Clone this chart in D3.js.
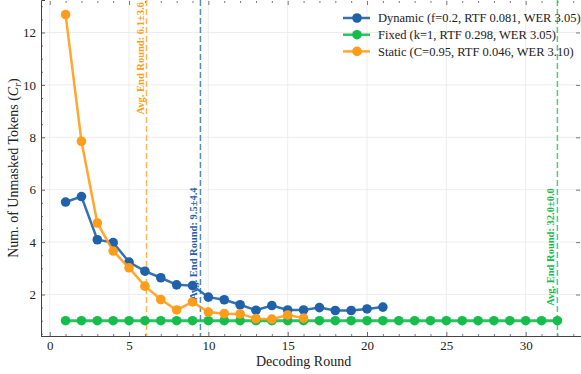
<!DOCTYPE html>
<html>
<head>
<meta charset="utf-8">
<script src="https://cdn.jsdelivr.net/npm/d3@7"></script>
<style>
  body { margin: 0; background: #fff; }
  text { font-family: "Liberation Serif", "DejaVu Serif", serif; }
</style>
</head>
<body>
<div id="chart"></div>
<script>
// data
var rounds = d3.range(1, 33);
var dynamicVals = [5.53, 5.74, 4.09, 3.98, 3.24, 2.89, 2.64, 2.37, 2.34, 1.90, 1.80,
    1.61, 1.40, 1.58, 1.41, 1.41, 1.50, 1.39, 1.39, 1.45, 1.52];
var fixedVals = rounds.map(function() { return 1.0; });
var staticVals = [12.68, 7.85, 4.73, 3.66, 3.02, 2.32, 1.81, 1.41, 1.72, 1.33, 1.27,
    1.26, 1.08, 1.06, 1.22, 1.10];
var seriesNames = ["Dynamic (f=0.2, RTF 0.081, WER 3.05)",
    "Fixed (k=1, RTF 0.298, WER 3.05)",
    "Static (C=0.95, RTF 0.046, WER 3.10)"];
var endRounds = [9.5, 32.0, 6.1];
var endLabels = ["Avg. End Round: 9.5\u00b14.4", "Avg. End Round: 32.0\u00b10.0", "Avg. End Round: 6.1\u00b13.6"];
var xTicks = [0, 5, 10, 15, 20, 25, 30];
var yTicks = [2, 4, 6, 8, 10, 12];

var colors = ["#1f62a9", "#15bd4c", "#ff9d1a"];
var labelY = [1.8, 1.57, 8.87];

var W = 581, H = 374;
var margin = { top: 0, right: -1, bottom: 38, left: 41 },
    width = W - margin.left - margin.right,
    height = H - margin.top - margin.bottom;

var svg = d3.select("#chart").append("svg")
    .attr("width", W)
    .attr("height", H);

var g = svg.append("g")
    .attr("transform", "translate(" + margin.left + "," + margin.top + ")");

var x = d3.scaleLinear().domain([-0.55, 33.55]).range([0, width]);
var y = d3.scaleLinear().domain([0.417, 13.24]).range([height, 0]);

// grid
g.append("g").selectAll("line").data(xTicks).enter().append("line")
    .attr("x1", function(d) { return x(d); }).attr("x2", function(d) { return x(d); })
    .attr("y1", 0).attr("y2", height)
    .attr("stroke", "#e8e8e8").attr("stroke-width", 0.8);
g.append("g").selectAll("line").data(yTicks).enter().append("line")
    .attr("y1", function(d) { return y(d); }).attr("y2", function(d) { return y(d); })
    .attr("x1", 0).attr("x2", width)
    .attr("stroke", "#e8e8e8").attr("stroke-width", 0.8);

// axes, ticks pointing inward
var xMinor = d3.range(0, 34).filter(function(d) { return d % 5 !== 0; });
var yMinor = d3.range(0.5, 13.1, 0.5).filter(function(d) { return d % 2 !== 0; });

function styleAxis(sel) {
    sel.select(".domain").attr("stroke", "#444").attr("stroke-width", 1);
    sel.selectAll(".tick line").attr("stroke", "#444").attr("stroke-width", 0.8);
    sel.selectAll(".tick text").attr("font-family", "Liberation Serif, serif")
        .attr("font-size", 13).attr("fill", "#222");
}
function plainTicks(s) {
    s.select(".domain").remove();
    s.selectAll("line").attr("stroke", "#444").attr("stroke-width", 0.7);
}

var xAxis = g.append("g").attr("transform", "translate(0," + height + ")")
    .call(d3.axisBottom(x).tickValues(xTicks).tickSize(-4).tickPadding(5).tickFormat(d3.format("d")));
styleAxis(xAxis);
g.append("g").attr("transform", "translate(0," + height + ")")
    .call(d3.axisBottom(x).tickValues(xMinor).tickSize(-2).tickFormat(""))
    .call(plainTicks);
g.append("g").attr("transform", "translate(0,1)")
    .call(d3.axisTop(x).tickValues(xTicks).tickSize(-4).tickFormat(""))
    .call(plainTicks);
g.append("g").attr("transform", "translate(0,1)")
    .call(d3.axisTop(x).tickValues(xMinor).tickSize(-2).tickFormat(""))
    .call(plainTicks);

var yAxis = g.append("g")
    .call(d3.axisLeft(y).tickValues(yTicks).tickSize(-4).tickPadding(5));
styleAxis(yAxis);
g.append("g")
    .call(d3.axisLeft(y).tickValues(yMinor).tickSize(-2).tickFormat(""))
    .call(plainTicks);
g.append("g").attr("transform", "translate(" + (width - 2) + ",0)")
    .call(d3.axisRight(y).tickValues(yTicks).tickSize(-4).tickFormat(""))
    .call(plainTicks);

// vertical end-round lines
endRounds.forEach(function(r, i) {
    g.append("line")
        .attr("x1", x(r)).attr("x2", x(r))
        .attr("y1", 0).attr("y2", height)
        .attr("stroke", colors[i]).attr("stroke-opacity", 0.75)
        .attr("stroke-width", 1.5).attr("stroke-dasharray", "6,3");
});

// series
var allSeries = [dynamicVals, fixedVals, staticVals];
var line = d3.line()
    .x(function(d, i) { return x(rounds[i]); })
    .y(function(d) { return y(d); });

allSeries.forEach(function(vals, i) {
    g.append("path").datum(vals)
        .attr("fill", "none")
        .attr("stroke", colors[i])
        .attr("stroke-width", i === 1 ? 3 : 2.5)
        .attr("stroke-opacity", 0.9)
        .attr("d", line);
    g.append("g").selectAll("circle").data(vals).enter().append("circle")
        .attr("cx", function(d, j) { return x(rounds[j]); })
        .attr("cy", function(d) { return y(d); })
        .attr("r", 4.8)
        .attr("fill", colors[i]);
});

// end-round labels
endRounds.forEach(function(r, i) {
    g.append("text")
        .attr("transform", "translate(" + (x(r) - 3) + "," + y(labelY[i]) + ") rotate(-90)")
        .attr("text-anchor", "start")
        .attr("font-size", 10.5)
        .attr("font-weight", "bold")
        .attr("fill", colors[i])
        .text(endLabels[i]);
});

// legend
var legend = g.append("g").attr("transform", "translate(" + (343 - margin.left) + ",18)");
seriesNames.forEach(function(name, i) {
    var row = legend.append("g").attr("transform", "translate(0," + (i * 16.7) + ")");
    row.append("line").attr("x1", 0).attr("x2", 27)
        .attr("stroke", colors[i]).attr("stroke-width", 2.5).attr("stroke-opacity", 0.9);
    row.append("circle").attr("cx", 14).attr("r", 4.8).attr("fill", colors[i]);
    row.append("text").attr("x", 35).attr("dy", "0.35em")
        .attr("font-size", 12.5).attr("fill", "#222").text(name);
});

// axis labels
svg.append("text")
    .attr("x", margin.left + x(16)).attr("y", 366)
    .attr("text-anchor", "middle").attr("font-size", 14).attr("fill", "#222")
    .text("Decoding Round");

var yl = svg.append("text")
    .attr("transform", "translate(18," + (margin.top + height / 2) + ") rotate(-90)")
    .attr("text-anchor", "middle").attr("font-size", 14).attr("fill", "#222");
yl.append("tspan").text("Num. of Unmasked Tokens (");
yl.append("tspan").attr("font-style", "italic").text("C");
yl.append("tspan").attr("font-style", "italic").attr("font-size", 10).attr("dy", 3).text("r");
yl.append("tspan").attr("dy", -3).text(")");
</script>
</body>
</html>
